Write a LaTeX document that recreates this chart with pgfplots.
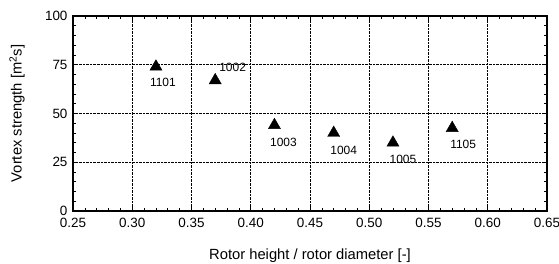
\documentclass[border=0pt]{standalone}
\usepackage{fontspec}
\setmainfont{Liberation Sans}
\usepackage{pgfplots}
\usepackage{pgfplotstable}
\pgfplotsset{compat=1.18}
\pgfplotstableread{
x y lab dx dy
0.32 74 1101 7 -16
0.37 67 1002 17.5 13
0.42 44 1003 9 -17
0.47 40 1004 10 -17
0.52 35 1005 10 -17
0.57 42.5 1105 11 -16
}\vortexdata
\begin{document}
\begin{tikzpicture}
\path[use as bounding box] (-73bp,-53bp) rectangle (486bp,211bp);
\begin{axis}[
  scale only axis,
  width=474bp, height=195bp,
  at={(0,0)}, anchor=south west,
  xmin=0.25, xmax=0.65, ymin=0, ymax=100,
  xtick={0.25,0.30,...,0.66},
  ytick={0,25,50,75,100},
  minor x tick num=4, minor y tick num=4,
  tick align=inside,
  major tick length=4bp, minor tick length=3bp,
  tick style={black, line width=0.6bp},
  axis line style={black, line width=2bp},
  grid=major,
  grid style={densely dotted, black, line width=0.7bp},
  /pgf/number format/assume math mode=true,
  xticklabel style={yshift=-4bp, /pgf/number format/.cd, fixed, fixed zerofill, precision=2},
  yticklabel style={xshift=-2bp, /pgf/number format/.cd, fixed},
  ticklabel style={font=\fontsize{13.5}{15}\selectfont},
  label style={font=\fontsize{14.8}{17}\selectfont},
  xlabel={Rotor height / rotor diameter [-]},
  ylabel={Vortex strength [m\textsuperscript{2}s]},
  xlabel style={at={(axis description cs:0.5,-0.251)}, anchor=base},
  ylabel style={at={(axis description cs:-0.118,0.5)}, anchor=center},
  clip=false,
]
\addplot[only marks, mark=triangle*, mark size=7bp, mark options={fill=black, draw=black},
  point meta=explicit symbolic,
  visualization depends on={\thisrow{dx} \as \dx},
  visualization depends on={\thisrow{dy} \as \dy},
  nodes near coords,
  every node near coord/.append style={anchor=center, xshift=\dx pt, yshift=\dy pt, font=\fontsize{12}{14}\selectfont, inner sep=0pt}
] table[x=x, y=y, meta=lab] {\vortexdata};
\end{axis}
\end{tikzpicture}
\end{document}
